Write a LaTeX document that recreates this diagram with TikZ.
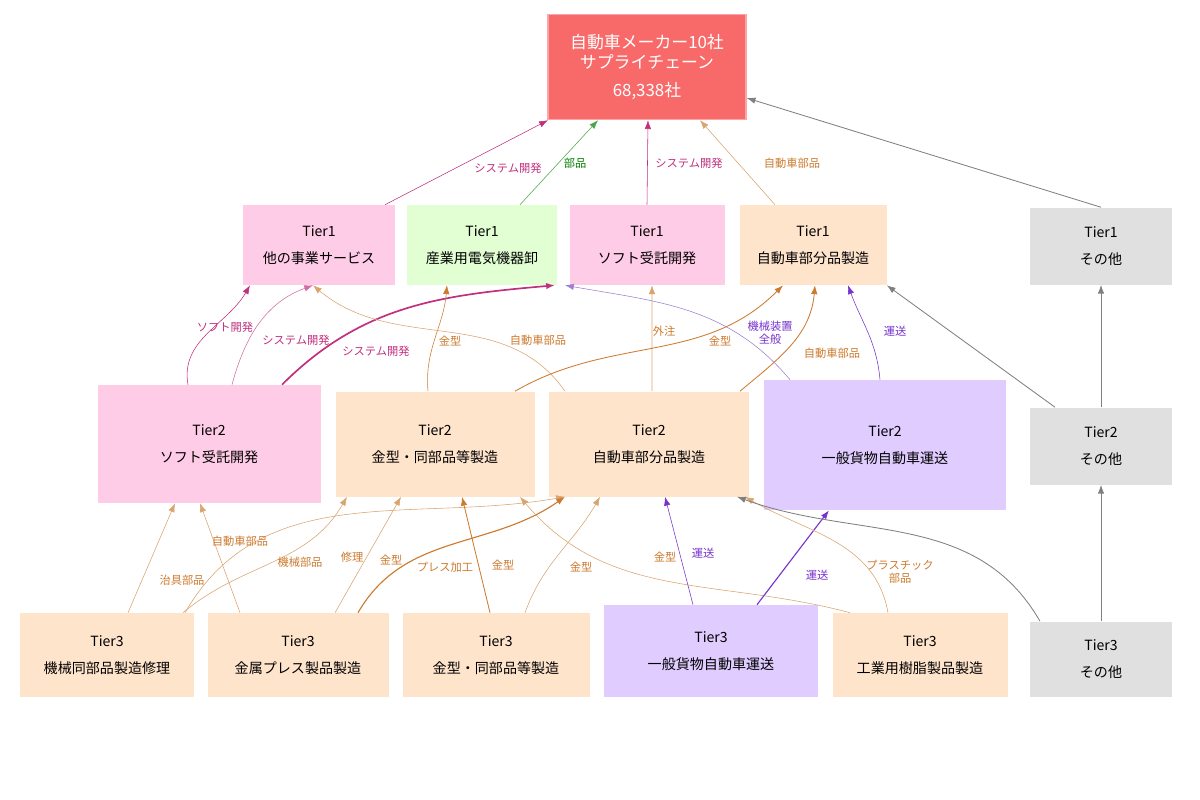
\documentclass[tikz,border=0pt]{standalone}
\usepackage{fontspec}
\setmainfont{Noto Sans CJK JP}
\usetikzlibrary{arrows.meta}
\definecolor{pinkbox}{HTML}{FFCCE8}
\definecolor{greenbox}{HTML}{E2FFD4}
\definecolor{peachbox}{HTML}{FFE4CC}
\definecolor{lavbox}{HTML}{E0CCFF}
\definecolor{greybox}{HTML}{E0E0E0}
\definecolor{redbox}{HTML}{F86A6A}
\definecolor{sysdev}{HTML}{C0307F}
\definecolor{partcol}{HTML}{CC7A2E}
\definecolor{lightpart}{HTML}{D9A46E}
\definecolor{haul}{HTML}{7733CC}
\definecolor{lighthaul}{HTML}{A080D0}
\definecolor{othercol}{HTML}{808080}
\begin{document}
\begin{tikzpicture}
  [x=0.25mm, y=-0.25mm,
   tier/.style 2 args={draw=none, fill=#1, align=center, font=\normalsize,
     minimum width=#2*0.25mm, inner sep=0pt},
   link/.style={-{Latex[length=2.2mm,width=1.6mm]}, #1, thin},
   lbl/.style={font=\footnotesize, text=#1, align=center, inner sep=1pt}]
  \useasboundingbox (0,0) rectangle (1200,800);
  % Maker at the top
  \node[tier={redbox}{198}, minimum height=26.25mm, draw=redbox!60, line width=1pt,
        text=white, font=\large] (top) at (647,67)
        {自動車メーカー10社\\サプライチェーン\\[2mm]68,338社};
  % Tier1 row
  \node[tier={pinkbox}{152}, minimum height=20mm] (t1a) at (319,245) {Tier1\\[2.5mm]他の事業サービス};
  \node[tier={greenbox}{150}, minimum height=20mm] (t1b) at (482,245) {Tier1\\[2.5mm]産業用電気機器卸};
  \node[tier={pinkbox}{155}, minimum height=20mm] (t1c) at (647,245) {Tier1\\[2.5mm]ソフト受託開発};
  \node[tier={peachbox}{147}, minimum height=20mm] (t1d) at (813,245) {Tier1\\[2.5mm]自動車部分品製造};
  \node[tier={greybox}{142}, minimum height=19.25mm] (t1e) at (1101,246) {Tier1\\[2.5mm]その他};
  % Tier2 row
  \node[tier={pinkbox}{223}, minimum height=29.5mm] (t2a) at (209,444) {Tier2\\[2.5mm]ソフト受託開発};
  \node[tier={peachbox}{199}, minimum height=26.25mm] (t2b) at (435,444) {Tier2\\[2.5mm]金型・同部品等製造};
  \node[tier={peachbox}{200}, minimum height=26.25mm] (t2c) at (649,444) {Tier2\\[2.5mm]自動車部分品製造};
  \node[tier={lavbox}{242}, minimum height=32.5mm] (t2d) at (885,445) {Tier2\\[2.5mm]一般貨物自動車運送};
  \node[tier={greybox}{142}, minimum height=19.25mm] (t2e) at (1101,446) {Tier2\\[2.5mm]その他};
  % Tier3 row
  \node[tier={peachbox}{174}, minimum height=21mm] (t3a) at (107,655) {Tier3\\[2.5mm]機械同部品製造修理};
  \node[tier={peachbox}{181}, minimum height=21mm] (t3b) at (298,655) {Tier3\\[2.5mm]金属プレス製品製造};
  \node[tier={peachbox}{187}, minimum height=21mm] (t3c) at (496,655) {Tier3\\[2.5mm]金型・同部品等製造};
  \node[tier={lavbox}{214}, minimum height=23mm] (t3d) at (711,651) {Tier3\\[2.5mm]一般貨物自動車運送};
  \node[tier={peachbox}{175}, minimum height=21mm] (t3e) at (920,655) {Tier3\\[2.5mm]工業用樹脂製品製造};
  \node[tier={greybox}{142}, minimum height=18.75mm] (t3f) at (1101,659) {Tier3\\[2.5mm]その他};

  % Tier1 to the maker
  \draw[link=sysdev] ([xshift=16.5mm]t1a.north) -- ([xshift=-24.75mm]top.south);
  \draw[link={green!50!black!70}] ([xshift=9.5mm]t1b.north) -- ([xshift=-12.25mm]top.south);
  \draw[link=sysdev] (t1c.north) -- ([xshift=0.25mm]top.south);
  \draw[link=lightpart] ([xshift=-9.5mm]t1d.north) -- ([xshift=13.25mm]top.south);
  \draw[link=othercol, semithick] (t1e.north) -- ([yshift=-7.75mm]top.east);
  \node[lbl=sysdev] at (508,168) {システム開発};
  \node[lbl={green!50!black}] at (575,163) {部品};
  \node[lbl=sysdev] at (689,163) {システム開発};
  \node[lbl=partcol] at (792,163) {自動車部品};

  % Tier2 to Tier1
  \draw[link=sysdev] ([xshift=-5.25mm]t2a.north) to[out=100,in=-120] ([xshift=-17.25mm]t1a.south);
  \draw[link=sysdev!70] ([xshift=5.75mm]t2a.north) to[out=75,in=-160] ([xshift=-1.5mm]t1a.south);
  \draw[link=sysdev, very thick] ([xshift=18.25mm]t2a.north) to[out=45,in=-175] ([xshift=-23mm]t1c.south);
  \draw[link=partcol] ([xshift=-1.75mm]t2b.north) to[out=95,in=-95] ([xshift=-8.75mm]t1b.south);
  \draw[link=lightpart] ([xshift=-21mm]t2c.north) to[out=125,in=-40] ([xshift=-1.5mm]t1a.south);
  \draw[link=lightpart] ([xshift=0.75mm]t2c.north) -- ([xshift=1.25mm]t1c.south);
  \draw[link=partcol, semithick] ([xshift=20mm]t2b.north) to[out=30,in=-135] ([xshift=-7.5mm]t1d.south);
  \draw[link=partcol, semithick] ([xshift=22.75mm]t2c.north) to[out=40,in=-95] ([xshift=0.5mm]t1d.south);
  \draw[link=lighthaul] ([xshift=-23.75mm]t2d.north) to[out=130,in=-10] ([xshift=-20.5mm]t1c.south);
  \draw[link=haul] ([xshift=-1.25mm]t2d.north) to[out=95,in=-70] ([xshift=8.75mm]t1d.south);
  \draw[link=othercol, semithick] ([xshift=-11.5mm]t2e.north) -- (t1d.south east);
  \draw[link=othercol, semithick] (t2e.north) -- (t1e.south);
  \node[lbl=sysdev] at (225,327) {ソフト開発};
  \node[lbl=sysdev] at (296,340) {システム開発};
  \node[lbl=sysdev] at (376,351) {システム開発};
  \node[lbl=partcol] at (450,341) {金型};
  \node[lbl=partcol] at (538,340) {自動車部品};
  \node[lbl=partcol] at (664,331) {外注};
  \node[lbl=partcol] at (720,341) {金型};
  \node[lbl=haul] at (770,333) {機械装置\\全般};
  \node[lbl=partcol] at (832,353) {自動車部品};
  \node[lbl=haul] at (895,331) {運送};

  % Tier3 to Tier2
  \draw[link=lightpart] ([xshift=5.25mm]t3a.north) -- ([xshift=-8.5mm]t2a.south);
  \draw[link=lightpart] ([xshift=-14.5mm]t3b.north) -- ([xshift=-2.25mm]t2a.south);
  \draw[link=lightpart] ([xshift=19mm]t3a.north) to[out=40,in=-120] ([xshift=-22mm]t2b.south);
  \draw[link=lightpart] ([xshift=19.5mm]t3a.north) to[out=60,in=-170] ([xshift=-21mm]t2c.south);
  \draw[link=partcol, thick] ([xshift=15mm]t3b.north) to[out=60,in=-145] ([xshift=-21mm]t2c.south);
  \draw[link=lightpart] ([xshift=9.25mm]t3b.north) -- ([xshift=-8.5mm]t2b.south);
  \draw[link=partcol, semithick] ([xshift=-1.5mm]t3c.north) -- ([xshift=6.75mm]t2b.south);
  \draw[link=lightpart] ([xshift=7.25mm]t3c.north) to[out=70,in=-120] ([xshift=-12.25mm]t2c.south);
  \draw[link=lightpart] ([xshift=-17.5mm]t3e.north) to[out=165,in=-50] ([xshift=21.25mm]t2b.south);
  \draw[link=haul] ([xshift=-4.5mm]t3d.north) -- ([xshift=4mm]t2c.south);
  \draw[link=haul, thick] ([xshift=11.5mm]t3d.north) -- ([xshift=-14mm]t2d.south);
  \draw[link=lightpart] ([xshift=-8mm]t3e.north) to[out=100,in=-30] ([xshift=24mm]t2c.south);
  \draw[link=othercol, semithick] ([xshift=-15.25mm]t3f.north) to[out=120,in=-20] ([xshift=22mm]t2c.south);
  \draw[link=othercol, semithick] (t3f.north) -- (t2e.south);
  \node[lbl=partcol] at (182,580) {治具部品};
  \node[lbl=partcol] at (240,541) {自動車部品};
  \node[lbl=partcol] at (300,562) {機械部品};
  \node[lbl=partcol] at (352,557) {修理};
  \node[lbl=partcol] at (391,560) {金型};
  \node[lbl=partcol] at (445,567) {プレス加工};
  \node[lbl=partcol] at (503,565) {金型};
  \node[lbl=partcol] at (581,567) {金型};
  \node[lbl=partcol] at (665,557) {金型};
  \node[lbl=haul] at (703,553) {運送};
  \node[lbl=haul] at (817,575) {運送};
  \node[lbl=partcol] at (900,572) {プラスチック\\部品};
\end{tikzpicture}
\end{document}
